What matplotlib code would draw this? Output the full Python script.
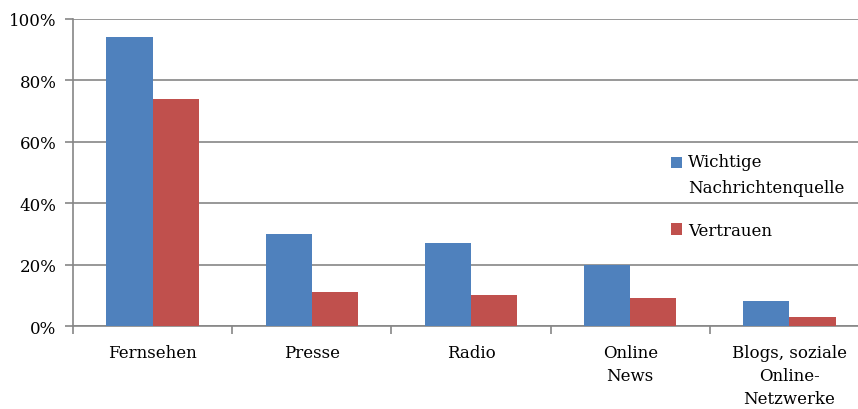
import numpy as np
import matplotlib.pyplot as plt
from matplotlib.ticker import FuncFormatter
from matplotlib.patches import Rectangle
from matplotlib.legend_handler import HandlerPatch, update_from_first_child

categories = ['Fernsehen', 'Presse', 'Radio', 'Online\nNews', 'Blogs, soziale\nOnline-\nNetzwerke']
quelle = [94, 30, 27, 20, 8]
vertrauen = [74, 11, 10, 9, 3]

plt.rcParams['font.family'] = ['DejaVu Serif']
grey = '#868686'

fig = plt.figure(figsize=(8.58, 4.10), dpi=100)
# plot area is wider than the picture (cropped on the right)
ax = fig.add_axes([73/858, 1-327/410, 796/858, 307/410])

x = np.arange(len(categories))
w = 0.29
b1 = ax.bar(x - w/2, quelle, w, color='#4F81BD', label='Wichtige\nNachrichtenquelle', zorder=3)
b2 = ax.bar(x + w/2, vertrauen, w, color='#C0504D', label='Vertrauen', zorder=3)

ax.set_xlim(-0.5, len(categories) - 0.5)
ax.set_ylim(0, 100)
ax.set_yticks(range(0, 101, 20))
ax.yaxis.set_major_formatter(FuncFormatter(lambda v, p: '%d%%' % v))
ax.grid(axis='y', color=grey, linewidth=1.2, zorder=0)

ax.set_xticks(x)
ax.set_xticklabels(categories, fontsize=12, linespacing=1.45)
ax.set_xticks(np.arange(-0.5, len(categories)), minor=True)
ax.tick_params(axis='x', which='major', length=0, pad=13)
ax.tick_params(axis='x', which='minor', length=6, width=1.2, color=grey)
ax.tick_params(axis='y', length=6, width=1.2, color=grey, labelsize=12, pad=6)

for s in ['top', 'right']:
    ax.spines[s].set_visible(False)
for s in ['left', 'bottom']:
    ax.spines[s].set_color(grey)
    ax.spines[s].set_linewidth(1.2)

# blue marker sits next to the first line of its two-line label
def top_square(legend, orig_handle, xdescent, ydescent, width, height, fontsize):
    return Rectangle((-xdescent, -ydescent + 9), width, height)

leg = ax.legend(loc='upper left', bbox_to_anchor=(664/858, 1-147/410), bbox_transform=fig.transFigure,
                frameon=False, fontsize=12, handlelength=0.7, handleheight=0.7,
                handletextpad=0.35, labelspacing=1.55, borderaxespad=0,
                handler_map={b1: HandlerPatch(patch_func=top_square, update_func=update_from_first_child)})
for t in leg.get_texts():
    t.set_linespacing(1.7)

fig.savefig('out.png', dpi=100)
